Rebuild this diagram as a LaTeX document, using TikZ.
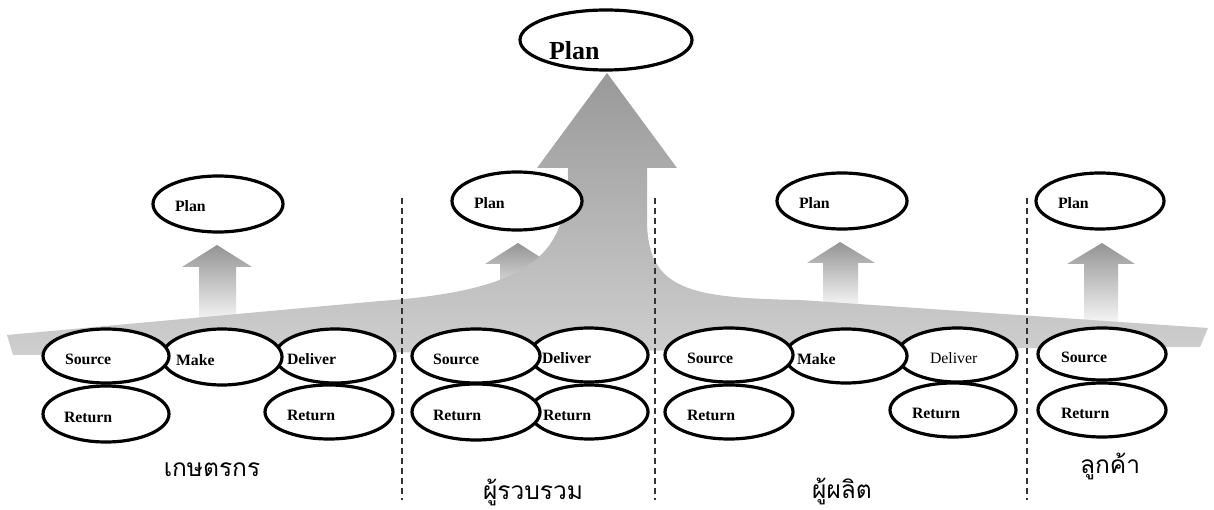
\documentclass[tikz,border=0pt]{standalone}
\usepackage{fontspec}
\setmainfont{Liberation Serif}
\newfontfamily\thaifont[Script=Thai]{Loma}
\usetikzlibrary{shapes.geometric}

\definecolor{headgray}{gray}{0.60}
\definecolor{bandgray}{gray}{0.81}
\definecolor{tipgray}{gray}{0.58}
\definecolor{fadegray}{gray}{0.96}
\definecolor{sepgray}{gray}{0.2}

\tikzset{
  oval/.style 2 args={ellipse, draw=black, fill=white, line width=3.2pt,
    minimum width=#1, minimum height=#2, inner sep=0pt, outer sep=0pt},
  lbl/.style={anchor=base west, inner sep=0pt, outer sep=0pt,
    font=\fontsize{15.8}{18}\selectfont\bfseries},
  lblthin/.style={lbl, font=\fontsize{15.8}{18}\selectfont},
  bigplan/.style={anchor=base west, inner sep=0pt, outer sep=0pt,
    font=\fontsize{26}{30}\selectfont\bfseries},
  actor/.style={anchor=base, inner sep=0pt, outer sep=0pt,
    font=\fontsize{24.5}{28}\selectfont\thaifont},
  sep/.style={draw=sepgray, line width=1.1pt, dash pattern=on 6pt off 4pt},
  uparrow/.style={top color=tipgray, bottom color=fadegray, draw=none},
}

\begin{document}
\begin{tikzpicture}[x=1pt, y=-1pt]
  \useasboundingbox (0,0) rectangle (1214,510);
  \fill[white] (0,0) rectangle (1214,510);

  % small upward arrows, one per actor
  \shade[uparrow] (199,320) -- (199,267) -- (182,267) -- (217,245) -- (252,267)
    -- (236,267) -- (236,320) -- cycle;
  \shade[uparrow] (500,302) -- (500,264) -- (485,264) -- (518,243) -- (551,264)
    -- (536,264) -- (536,302) -- cycle;
  \shade[uparrow] (823,305) -- (823,263) -- (807,263) -- (840,242) -- (875,263)
    -- (858,263) -- (858,305) -- cycle;
  \shade[uparrow] (1084,322) -- (1084,264) -- (1067,264) -- (1102,243) -- (1135,264)
    -- (1118,264) -- (1118,322) -- cycle;

  % wide band that rises into the big arrow
  \shade[top color=headgray, bottom color=bandgray, draw=none]
    (7,335) -- (380,301) .. controls (540,290) and (568,250) .. (568,168)
    -- (537,168) -- (607,73) -- (677,168) -- (647,168) -- (647,222)
    .. controls (648,290) and (690,298) .. (800,300)
    -- (1208,328) -- (1200,347) -- (13,355) -- cycle;

  % separators between actors
  \coordinate (s1t) at (402,198); \coordinate (s1b) at (402,500);
  \coordinate (s2t) at (655,198); \coordinate (s2b) at (655,500);
  \coordinate (s3t) at (1027,198); \coordinate (s3b) at (1027,500);
  \draw[sep] (s1t) -- (s1b);
  \draw[sep] (s2t) -- (s2b);
  \draw[sep] (s3t) -- (s3b);

  % overall plan
  \node[oval={172pt}{60pt}] (plantop) at (606,40) {};
  \node[bigplan] (plantopt) at ([xshift=29pt,yshift=-20pt]plantop.west) {Plan};

  % plans of each actor
  \node[oval={130pt}{56pt}] (plan1) at (218,204) {};
  \node[lbl] (plan1t) at ([xshift=22pt,yshift=-8pt]plan1.west) {Plan};
  \node[oval={130pt}{58pt}] (plan2) at (517,201) {};
  \node[lbl] (plan2t) at ([xshift=22pt,yshift=-8pt]plan2.west) {Plan};
  \node[oval={130pt}{56pt}] (plan3) at (842,201) {};
  \node[lbl] (plan3t) at ([xshift=22pt,yshift=-8pt]plan3.west) {Plan};
  \node[oval={128pt}{56pt}] (plan4) at (1100,201) {};
  \node[lbl] (plan4t) at ([xshift=22pt,yshift=-8pt]plan4.west) {Plan};

  % actor 1
  \node[oval={126pt}{56pt}] (ret1a) at (106,414) {};
  \node[oval={128pt}{54pt}] (ret1b) at (329,412) {};
  \node[oval={120pt}{54pt}] (del1) at (335,356) {};
  \node[oval={120pt}{56pt}] (make1) at (222,357) {};
  \node[oval={126pt}{54pt}] (src1) at (106,356) {};
  \node[lbl] (src1t) at ([xshift=22pt,yshift=-8pt]src1.west) {Source};
  \node[lbl] (make1t) at ([xshift=14pt,yshift=-8pt]make1.west) {Make};
  \node[lbl] (del1t) at ([xshift=12pt,yshift=-8pt]del1.west) {Deliver};
  \node[lbl] (ret1at) at ([xshift=21pt,yshift=-8pt]ret1a.west) {Return};
  \node[lbl] (ret1bt) at ([xshift=22pt,yshift=-8pt]ret1b.west) {Return};

  % actor 2
  \node[oval={118pt}{54pt}] (ret2b) at (589,412) {};
  \node[oval={128pt}{56pt}] (ret2a) at (476,412) {};
  \node[oval={118pt}{54pt}] (del2) at (589,355) {};
  \node[oval={128pt}{54pt}] (src2) at (476,356) {};
  \node[lbl] (src2t) at ([xshift=21pt,yshift=-8pt]src2.west) {Source};
  \node[lbl] (del2t) at ([xshift=12pt,yshift=-8pt]del2.west) {Deliver};
  \node[lbl] (ret2at) at ([xshift=21pt,yshift=-8pt]ret2a.west) {Return};
  \node[lbl] (ret2bt) at ([xshift=13pt,yshift=-8pt]ret2b.west) {Return};

  % actor 3
  \node[oval={128pt}{54pt}] (ret3a) at (729,412) {};
  \node[oval={126pt}{54pt}] (ret3b) at (953,410) {};
  \node[oval={120pt}{54pt}] (del3) at (957,355) {};
  \node[oval={122pt}{54pt}] (make3) at (846,356) {};
  \node[oval={128pt}{54pt}] (src3) at (729,355) {};
  \node[lbl] (src3t) at ([xshift=22pt,yshift=-8pt]src3.west) {Source};
  \node[lbl] (make3t) at ([xshift=12pt,yshift=-8pt]make3.west) {Make};
  \node[lblthin] (del3t) at ([xshift=33pt,yshift=-8pt]del3.west) {Deliver};
  \node[lbl] (ret3at) at ([xshift=22pt,yshift=-8pt]ret3a.west) {Return};
  \node[lbl] (ret3bt) at ([xshift=22pt,yshift=-8pt]ret3b.west) {Return};

  % actor 4
  \node[oval={128pt}{54pt}] (ret4) at (1102,410) {};
  \node[oval={128pt}{52pt}] (src4) at (1102,354) {};
  \node[lbl] (src4t) at ([xshift=23pt,yshift=-8pt]src4.west) {Source};
  \node[lbl] (ret4t) at ([xshift=23pt,yshift=-8pt]ret4.west) {Return};

  % actor names
  \node[actor] (name1) at (212,476) {เกษตรกร};
  \node[actor] (name2) at (533,499) {ผู้รวบรวม};
  \node[actor] (name3) at (842,498) {ผู้ผลิต};
  \node[actor] (name4) at (1110,473) {ลูกค้า};
\end{tikzpicture}
\end{document}
